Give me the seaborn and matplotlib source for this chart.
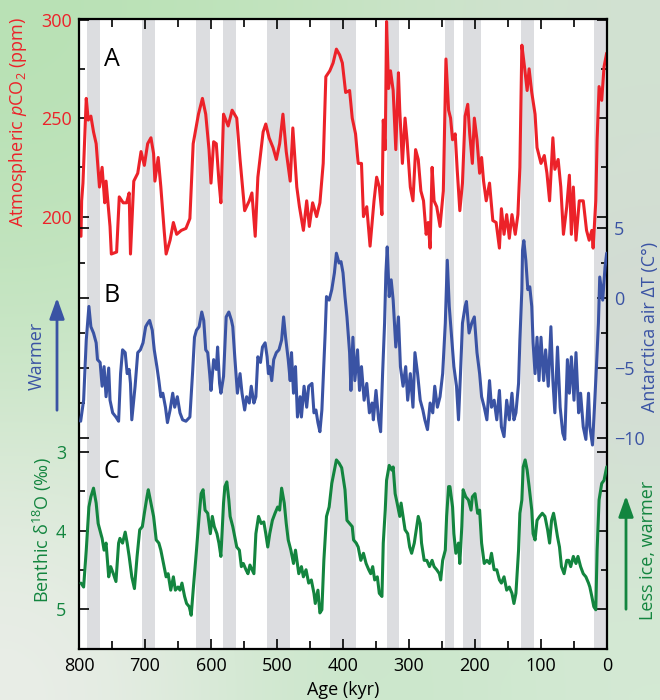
import numpy as np
import matplotlib
matplotlib.use('Agg')
import matplotlib.pyplot as plt
import matplotlib.ticker as mticker
from matplotlib.patches import FancyArrowPatch
import seaborn as sns

# --- data (age in kyr before present) ---
co2_age = [797, 796, 794, 789, 786, 782, 778, 774, 769, 765,
           761, 759, 753, 751, 743, 739, 735, 733, 728, 724,
           722, 717, 711, 706, 701, 696, 691, 687, 685, 680,
           676, 671, 668, 662, 657, 652, 645, 638, 632, 627,
           619, 613, 608, 603, 600, 596, 592, 588, 585, 581,
           574, 568, 561, 556, 549, 542, 538, 533, 529, 521,
           517, 512, 506, 501, 496, 491, 486, 480, 476, 470,
           466, 460, 455, 451, 446, 440, 435, 430, 426, 420,
           415, 410, 405, 401, 396, 390, 386, 381, 377, 372,
           369, 364, 359, 353, 349, 345, 341, 339, 336, 334,
           331, 328, 324, 320, 316, 314, 310, 306, 303, 298,
           294, 290, 286, 282, 278, 274, 271, 268, 265, 262,
           258, 253, 248, 244, 240, 237, 234, 230, 227, 223,
           219, 215, 211, 208, 204, 201, 197, 193, 190, 187,
           183, 178, 173, 168, 163, 160, 156, 152, 148, 144,
           139, 135, 132, 129, 125, 121, 118, 114, 109, 106,
           100, 95, 91, 87, 82, 79, 74, 70, 66, 61,
           57, 54, 51, 47, 42, 36, 31, 27, 23, 21,
           17, 15, 12, 8, 4.5, 0.5]
co2_ppm = [190, 208, 217, 260, 249, 251, 243, 237, 215, 225,
           207, 218, 195, 181, 182, 210, 208, 207, 207, 212,
           181, 218, 222, 233, 226, 237, 240, 232, 218, 230,
           215, 193, 181, 188, 197, 191, 193, 194, 199, 237,
           252, 260, 252, 234, 217, 238, 237, 218, 207, 252,
           246, 254, 250, 229, 203, 208, 212, 190, 220, 243,
           247, 240, 235, 229, 237, 252, 233, 218, 245, 215,
           205, 193, 208, 195, 207, 200, 207, 227, 271, 274,
           278, 285, 282, 278, 263, 264, 250, 242, 227, 227,
           200, 205, 185, 208, 220, 215, 201, 249, 234, 299,
           265, 274, 264, 234, 273, 254, 227, 250, 239, 215,
           208, 234, 229, 213, 208, 191, 197, 184, 225, 208,
           205, 195, 213, 280, 254, 250, 239, 242, 224, 203,
           217, 251, 257, 242, 227, 250, 239, 222, 230, 218,
           208, 217, 198, 197, 184, 204, 191, 201, 189, 201,
           191, 201, 225, 287, 276, 264, 275, 263, 252, 235,
           227, 231, 222, 208, 240, 224, 229, 215, 191, 205,
           221, 191, 215, 188, 208, 208, 193, 188, 193, 184,
           208, 239, 266, 259, 276, 283]

dt_age = [797.5, 793, 789, 785, 782, 778, 774, 772, 768, 765,
          762, 759, 755, 753, 749, 744, 740, 737, 734, 730,
          727, 724, 722, 720, 715, 711, 707, 703, 699, 696,
          693, 689, 686, 682, 679, 676, 673, 669, 666, 662,
          658, 655, 651, 647, 643, 638, 632, 628, 625, 622,
          618, 614, 611, 608, 605, 602, 600, 596, 592, 590,
          587, 585, 581, 577, 573, 569, 567, 564, 560, 556,
          553, 549, 546, 542, 539, 535, 532, 529, 525, 522,
          518, 515, 513, 511, 508, 505, 501, 497, 493, 490,
          487, 483, 480, 478, 475, 472, 469, 465, 463, 459,
          455, 452, 447, 444, 441, 438, 435, 432, 427, 425,
          421, 417, 413, 410, 406, 403, 400, 397, 394, 390,
          388, 385, 382, 378, 375, 372, 368, 364, 360, 356,
          354, 350, 346, 343, 340, 337, 335, 333, 330, 327,
          324, 320, 316, 313, 309, 305, 302, 298, 294, 291,
          287, 283, 279, 276, 272, 268, 264, 261, 257, 253,
          249, 245, 242, 239, 235, 232, 228, 225, 222, 219,
          215, 213, 209, 205, 201, 197, 193, 190, 186, 182,
          178, 175, 171, 167, 163, 160, 156, 152, 148, 144,
          141, 138, 134, 132, 129, 128, 126, 123, 120, 117,
          114, 112, 109, 106, 103, 100, 96, 93, 89, 85,
          82, 79, 75, 71, 67, 64, 60, 57, 54, 50,
          47, 43, 40, 36, 32, 28, 26, 22, 19, 16,
          13, 11, 6.5, 3, 0.5]
dt_val = [-8.8, -7.3, -3.0, -0.6, -2.05, -2.5, -3.2, -4.4, -4.6, -6.3,
          -4.9, -7.05, -5.0, -7.3, -8.2, -8.5, -8.8, -5.4, -3.7, -3.9,
          -5.4, -5.1, -6.1, -8.7, -6.3, -3.9, -3.7, -3.2, -2.05, -1.8,
          -1.6, -2.3, -3.7, -4.9, -5.9, -7.05, -6.8, -7.8, -8.9, -8.0,
          -6.8, -7.8, -7.05, -8.2, -8.7, -8.8, -8.5, -5.4, -2.8, -2.3,
          -2.05, -1.0, -1.6, -3.7, -3.9, -5.4, -6.6, -4.4, -5.1, -3.5,
          -6.1, -6.8, -5.6, -1.35, -1.0, -1.6, -2.05, -4.2, -6.8, -5.4,
          -6.8, -8.0, -7.05, -7.5, -6.3, -7.5, -7.05, -4.2, -4.6, -3.5,
          -3.2, -4.2, -5.4, -4.9, -5.9, -4.4, -3.9, -3.7, -3.0, -1.35,
          -2.8, -4.4, -5.9, -3.9, -6.8, -4.9, -8.5, -7.05, -8.5, -6.3,
          -7.8, -6.3, -6.1, -8.2, -8.0, -8.9, -9.55, -8.0, -2.5, 0.1,
          -0.15, 0.6, 1.8, 3.2, 2.5, 2.6, 1.8, 0.1, -1.35, -3.9,
          -6.6, -2.8, -5.9, -3.7, -6.6, -4.9, -7.3, -6.1, -8.2, -7.5,
          -8.7, -6.6, -8.7, -9.55, -5.4, -1.8, 1.8, 3.65, 0.1, 1.3,
          -0.15, -3.5, -1.35, -4.9, -6.3, -4.9, -7.3, -5.4, -7.8, -3.9,
          -5.4, -7.3, -8.0, -8.7, -9.4, -7.5, -8.2, -6.3, -7.8, -7.05,
          -5.4, -1.8, 2.7, -0.6, -3.0, -4.9, -6.3, -8.7, -5.4, -1.8,
          -0.6, -0.25, -2.5, -1.8, -1.35, -3.9, -5.4, -7.05, -7.8, -8.7,
          -5.9, -7.8, -7.3, -8.7, -6.6, -9.2, -9.9, -7.3, -8.7, -6.8,
          -8.7, -8.2, -6.1, -3.0, 0.6, 3.4, 4.1, 2.7, 0.6, 0.8,
          -0.6, -3.2, -5.4, -2.8, -5.9, -2.8, -5.9, -3.7, -6.3, -2.05,
          -5.9, -8.2, -3.5, -7.8, -9.65, -10.1, -4.4, -6.8, -4.2, -7.3,
          -3.9, -8.2, -6.8, -9.2, -10.1, -6.8, -9.2, -10.5, -7.8, -4.9,
          -1.8, 1.5, -0.15, 2.2, 3.2]

d18o_age = [797, 793, 789, 785, 782, 778, 774, 771, 765, 762,
            759, 755, 752, 748, 744, 740, 738, 734, 730, 727,
            724, 720, 716, 712, 708, 704, 701, 697, 695, 691,
            687, 683, 679, 676, 672, 668, 665, 661, 657, 654,
            650, 647, 644, 640, 637, 633, 630, 627, 622, 618,
            615, 612, 609, 605, 601, 598, 595, 591, 588, 585,
            581, 579, 576, 573, 571, 567, 564, 561, 557, 554,
            551, 547, 544, 541, 535, 532, 528, 524, 520, 517,
            514, 511, 507, 503, 499, 496, 493, 489, 486, 483,
            479, 475, 472, 467, 463, 460, 456, 452, 448, 444,
            442, 438, 435, 432, 429, 425, 421, 417, 413, 410,
            406, 402, 397, 394, 390, 386, 384, 380, 377, 373,
            369, 365, 361, 358, 355, 352, 348, 345, 341, 339,
            336, 334, 330, 326, 324, 321, 318, 314, 312, 309,
            306, 302, 299, 296, 292, 289, 286, 283, 281, 277,
            273, 269, 265, 262, 258, 254, 252, 249, 245, 243,
            240, 238, 234, 232, 229, 225, 223, 220, 218, 214,
            210, 206, 204, 200, 196, 193, 190, 186, 182, 178,
            175, 171, 167, 163, 160, 156, 152, 148, 144, 141,
            138, 134, 132, 129, 127, 124, 121, 118, 114, 112,
            109, 106, 102, 98, 94, 90, 87, 84, 81, 79,
            75, 72, 69, 65, 61, 58, 55, 51, 47, 44,
            40, 36, 32, 28, 26, 23, 20, 17, 15, 12,
            8, 4.5, 0.5]
d18o_val = [4.67, 4.72, 4.25, 3.70, 3.57, 3.46, 3.65, 3.91, 4.10, 4.25,
            4.16, 4.59, 4.46, 4.55, 4.65, 4.16, 4.10, 4.16, 4.02, 4.16,
            4.33, 4.59, 4.74, 4.33, 3.99, 3.95, 3.78, 3.57, 3.48, 3.65,
            3.82, 4.12, 4.16, 4.25, 4.42, 4.59, 4.55, 4.76, 4.59, 4.76,
            4.72, 4.76, 4.67, 4.84, 4.93, 4.97, 5.08, 4.76, 4.25, 3.82,
            3.53, 3.48, 3.74, 3.78, 4.04, 3.82, 3.95, 4.04, 4.16, 4.33,
            3.65, 3.44, 3.38, 3.61, 3.82, 3.95, 4.08, 4.21, 4.25, 4.46,
            4.42, 4.50, 4.55, 4.44, 4.55, 4.04, 3.82, 3.91, 3.89, 4.04,
            4.21, 4.04, 3.87, 3.78, 3.70, 3.74, 3.46, 3.65, 3.91, 4.12,
            4.25, 4.42, 4.25, 4.55, 4.46, 4.59, 4.50, 4.67, 4.63, 4.80,
            4.93, 4.76, 5.05, 5.01, 4.38, 3.82, 3.70, 3.40, 3.23, 3.10,
            3.14, 3.20, 3.48, 3.87, 3.91, 3.95, 4.12, 4.16, 4.21, 4.38,
            4.29, 4.42, 4.50, 4.55, 4.46, 4.63, 4.59, 4.80, 4.84, 4.16,
            3.74, 3.36, 3.17, 3.23, 3.19, 3.53, 3.65, 3.82, 3.65, 3.82,
            3.99, 4.04, 4.21, 4.29, 4.16, 3.99, 3.82, 3.91, 4.16, 4.38,
            4.38, 4.46, 4.38, 4.46, 4.50, 4.55, 4.63, 4.38, 4.25, 3.82,
            3.44, 3.44, 3.70, 4.04, 4.29, 4.16, 4.42, 3.95, 3.48, 3.57,
            3.61, 3.74, 3.57, 3.53, 3.78, 3.74, 4.16, 4.42, 4.38, 4.42,
            4.29, 4.50, 4.50, 4.63, 4.67, 4.59, 4.76, 4.72, 4.80, 4.93,
            4.80, 4.25, 3.78, 3.61, 3.19, 3.10, 3.23, 3.44, 3.74, 4.04,
            4.12, 3.87, 3.82, 3.78, 3.82, 3.99, 4.16, 3.87, 3.78, 3.87,
            4.08, 4.21, 4.46, 4.55, 4.38, 4.38, 4.46, 4.33, 4.42, 4.33,
            4.46, 4.55, 4.59, 4.67, 4.72, 4.84, 4.97, 5.01, 4.25, 3.61,
            3.40, 3.36, 3.19]

# interglacial bands (older edge, younger edge)
band_old = [788, 704, 622, 582, 515, 420, 334, 245, 218, 130, 20]
band_young = [768, 685, 601, 562, 480, 381, 315, 232, 191, 110, 0]

co2_ticks = [200, 250, 300]
dt_ticks = [-10, -5, 0, 5]
d18o_ticks = [3, 4, 5]

RED = '#ec2229'
BLUE = '#3a53a4'
GREEN = '#13853f'
BAND = '#dcdde0'

sns.set_style('ticks')
plt.rcParams['font.family'] = ['Open Sans', 'DejaVu Sans']
plt.rcParams['mathtext.fontset'] = 'custom'
plt.rcParams['mathtext.rm'] = 'Open Sans'
plt.rcParams['mathtext.it'] = 'Open Sans:italic'
plt.rcParams['text.color'] = 'black'
plt.rcParams['xtick.color'] = 'black'
plt.rcParams['ytick.color'] = 'black'

W, H = 660, 700
fig = plt.figure(figsize=(W / 100, H / 100), dpi=100)


def fx(px):
    return px / W


def fy(py):
    return 1 - py / H


# soft green/grey background behind everything
bg = np.array([
    [[184, 225, 180], [196, 229, 192], [210, 226, 210]],
    [[198, 229, 195], [215, 232, 214], [212, 215, 213]],
    [[236, 238, 234], [196, 229, 196], [212, 234, 212]],
]) / 255
bgax = fig.add_axes([0, 0, 1, 1])
bgax.imshow(bg, extent=[0, 1, 0, 1], aspect='auto', interpolation='bicubic')
bgax.axis('off')

ax = fig.add_axes([fx(79), fy(649), fx(607 - 79), (649 - 19) / H])
ax.set_facecolor('white')

for s, e in zip(band_old, band_young):
    ax.axvspan(e, s, color=BAND, lw=0, zorder=0)

line_kw = dict(lw=2.2, sort=False, estimator=None,
               solid_joinstyle='round', solid_capstyle='round')

sns.lineplot(x=co2_age, y=co2_ppm, ax=ax, color=RED, **line_kw)
ax.set_ylim(-19.5, 300.3)

ax2 = ax.twinx()
sns.lineplot(x=dt_age, y=dt_val, ax=ax2, color=BLUE, **line_kw)
ax2.set_ylim(-25.07, 19.93)

ax3 = ax.twinx()
sns.lineplot(x=d18o_age, y=d18o_val, ax=ax3, color=GREEN, **line_kw)
ax3.set_ylim(5.51, -2.52)

ax.set_xlim(800, 0)
for a in (ax, ax2, ax3):
    a.set_xlabel('')
    a.set_ylabel('')

# x axis
ax.xaxis.set_major_locator(mticker.MultipleLocator(100))
ax.xaxis.set_minor_locator(mticker.MultipleLocator(50))
ax.tick_params(axis='x', which='both', direction='in', top=True, bottom=True,
               width=1.2, labelsize=13, pad=6, colors='black')
ax.tick_params(axis='x', which='major', length=7)
ax.tick_params(axis='x', which='minor', length=6)

# CO2 axis (left labels)
ax.yaxis.set_major_locator(mticker.FixedLocator(co2_ticks))
ax.yaxis.set_minor_locator(mticker.FixedLocator([225, 275]))
ax.tick_params(axis='y', which='both', direction='in', left=True, right=True,
               width=1.2, labelsize=13, pad=5, labelcolor=RED)
ax.tick_params(axis='y', which='major', length=7)
ax.tick_params(axis='y', which='minor', length=4)

# Antarctic temperature axis (right labels)
ax2.yaxis.set_major_locator(mticker.FixedLocator(dt_ticks))
ax2.yaxis.set_minor_locator(mticker.FixedLocator([-7.5, -2.5, 2.5]))
ax2.tick_params(axis='y', which='both', direction='in', left=True, right=True,
                labelleft=False, labelright=True, width=1.2, labelsize=13,
                pad=5, labelcolor=BLUE)
ax2.tick_params(axis='y', which='major', length=7)
ax2.tick_params(axis='y', which='minor', length=4)

# benthic d18O axis (left labels, inverted)
ax3.yaxis.set_major_locator(mticker.FixedLocator(d18o_ticks))
ax3.yaxis.set_minor_locator(mticker.FixedLocator([3.5, 4.5]))
ax3.tick_params(axis='y', which='both', direction='in', left=True, right=True,
                labelleft=True, labelright=False, width=1.2, labelsize=13,
                pad=9, labelcolor=GREEN)
ax3.tick_params(axis='y', which='major', length=7)
ax3.tick_params(axis='y', which='minor', length=4)

for sp in ax.spines.values():
    sp.set_linewidth(1.6)
    sp.set_color('black')
for a in (ax2, ax3):
    for sp in a.spines.values():
        sp.set_visible(False)

# panel letters
for letter, (px, py) in zip(['A', 'B', 'C'], [(112, 60), (112, 295), (111, 472)]):
    fig.text(fx(px), fy(py), letter, fontsize=18, ha='center', va='center',
             color='black')

# axis titles
fig.text(fx(18), fy(122), r'Atmospheric $p$CO$_2$ (ppm)', color=RED,
         fontsize=13, rotation=90, ha='center', va='center')
fig.text(fx(42), fy(530), 'Benthic δ$^{18}$O (‰)', color=GREEN,
         fontsize=13, rotation=90, ha='center', va='center')
fig.text(fx(650), fy(327), 'Antarctica air ΔT (C°)', color=BLUE,
         fontsize=13, rotation=90, ha='center', va='center')
fig.text(fx(343), fy(690), 'Age (kyr)', fontsize=13, ha='center', va='center',
         color='black')

fig.text(fx(37), fy(356), 'Warmer', color=BLUE, fontsize=13, rotation=90,
         ha='center', va='center')
fig.text(fx(648), fy(550), 'Less ice, warmer', color=GREEN, fontsize=13,
         rotation=90, ha='center', va='center')

fig.add_artist(FancyArrowPatch((fx(57), fy(413)), (fx(57), fy(295)),
                               transform=fig.transFigure, color=BLUE, lw=2,
                               arrowstyle='-|>,head_length=0.7,head_width=0.25',
                               mutation_scale=18))
fig.add_artist(FancyArrowPatch((fx(626), fy(612)), (fx(626), fy(493)),
                               transform=fig.transFigure, color=GREEN, lw=2,
                               arrowstyle='-|>,head_length=0.7,head_width=0.25',
                               mutation_scale=18))

fig.savefig('out.png', dpi=100)
